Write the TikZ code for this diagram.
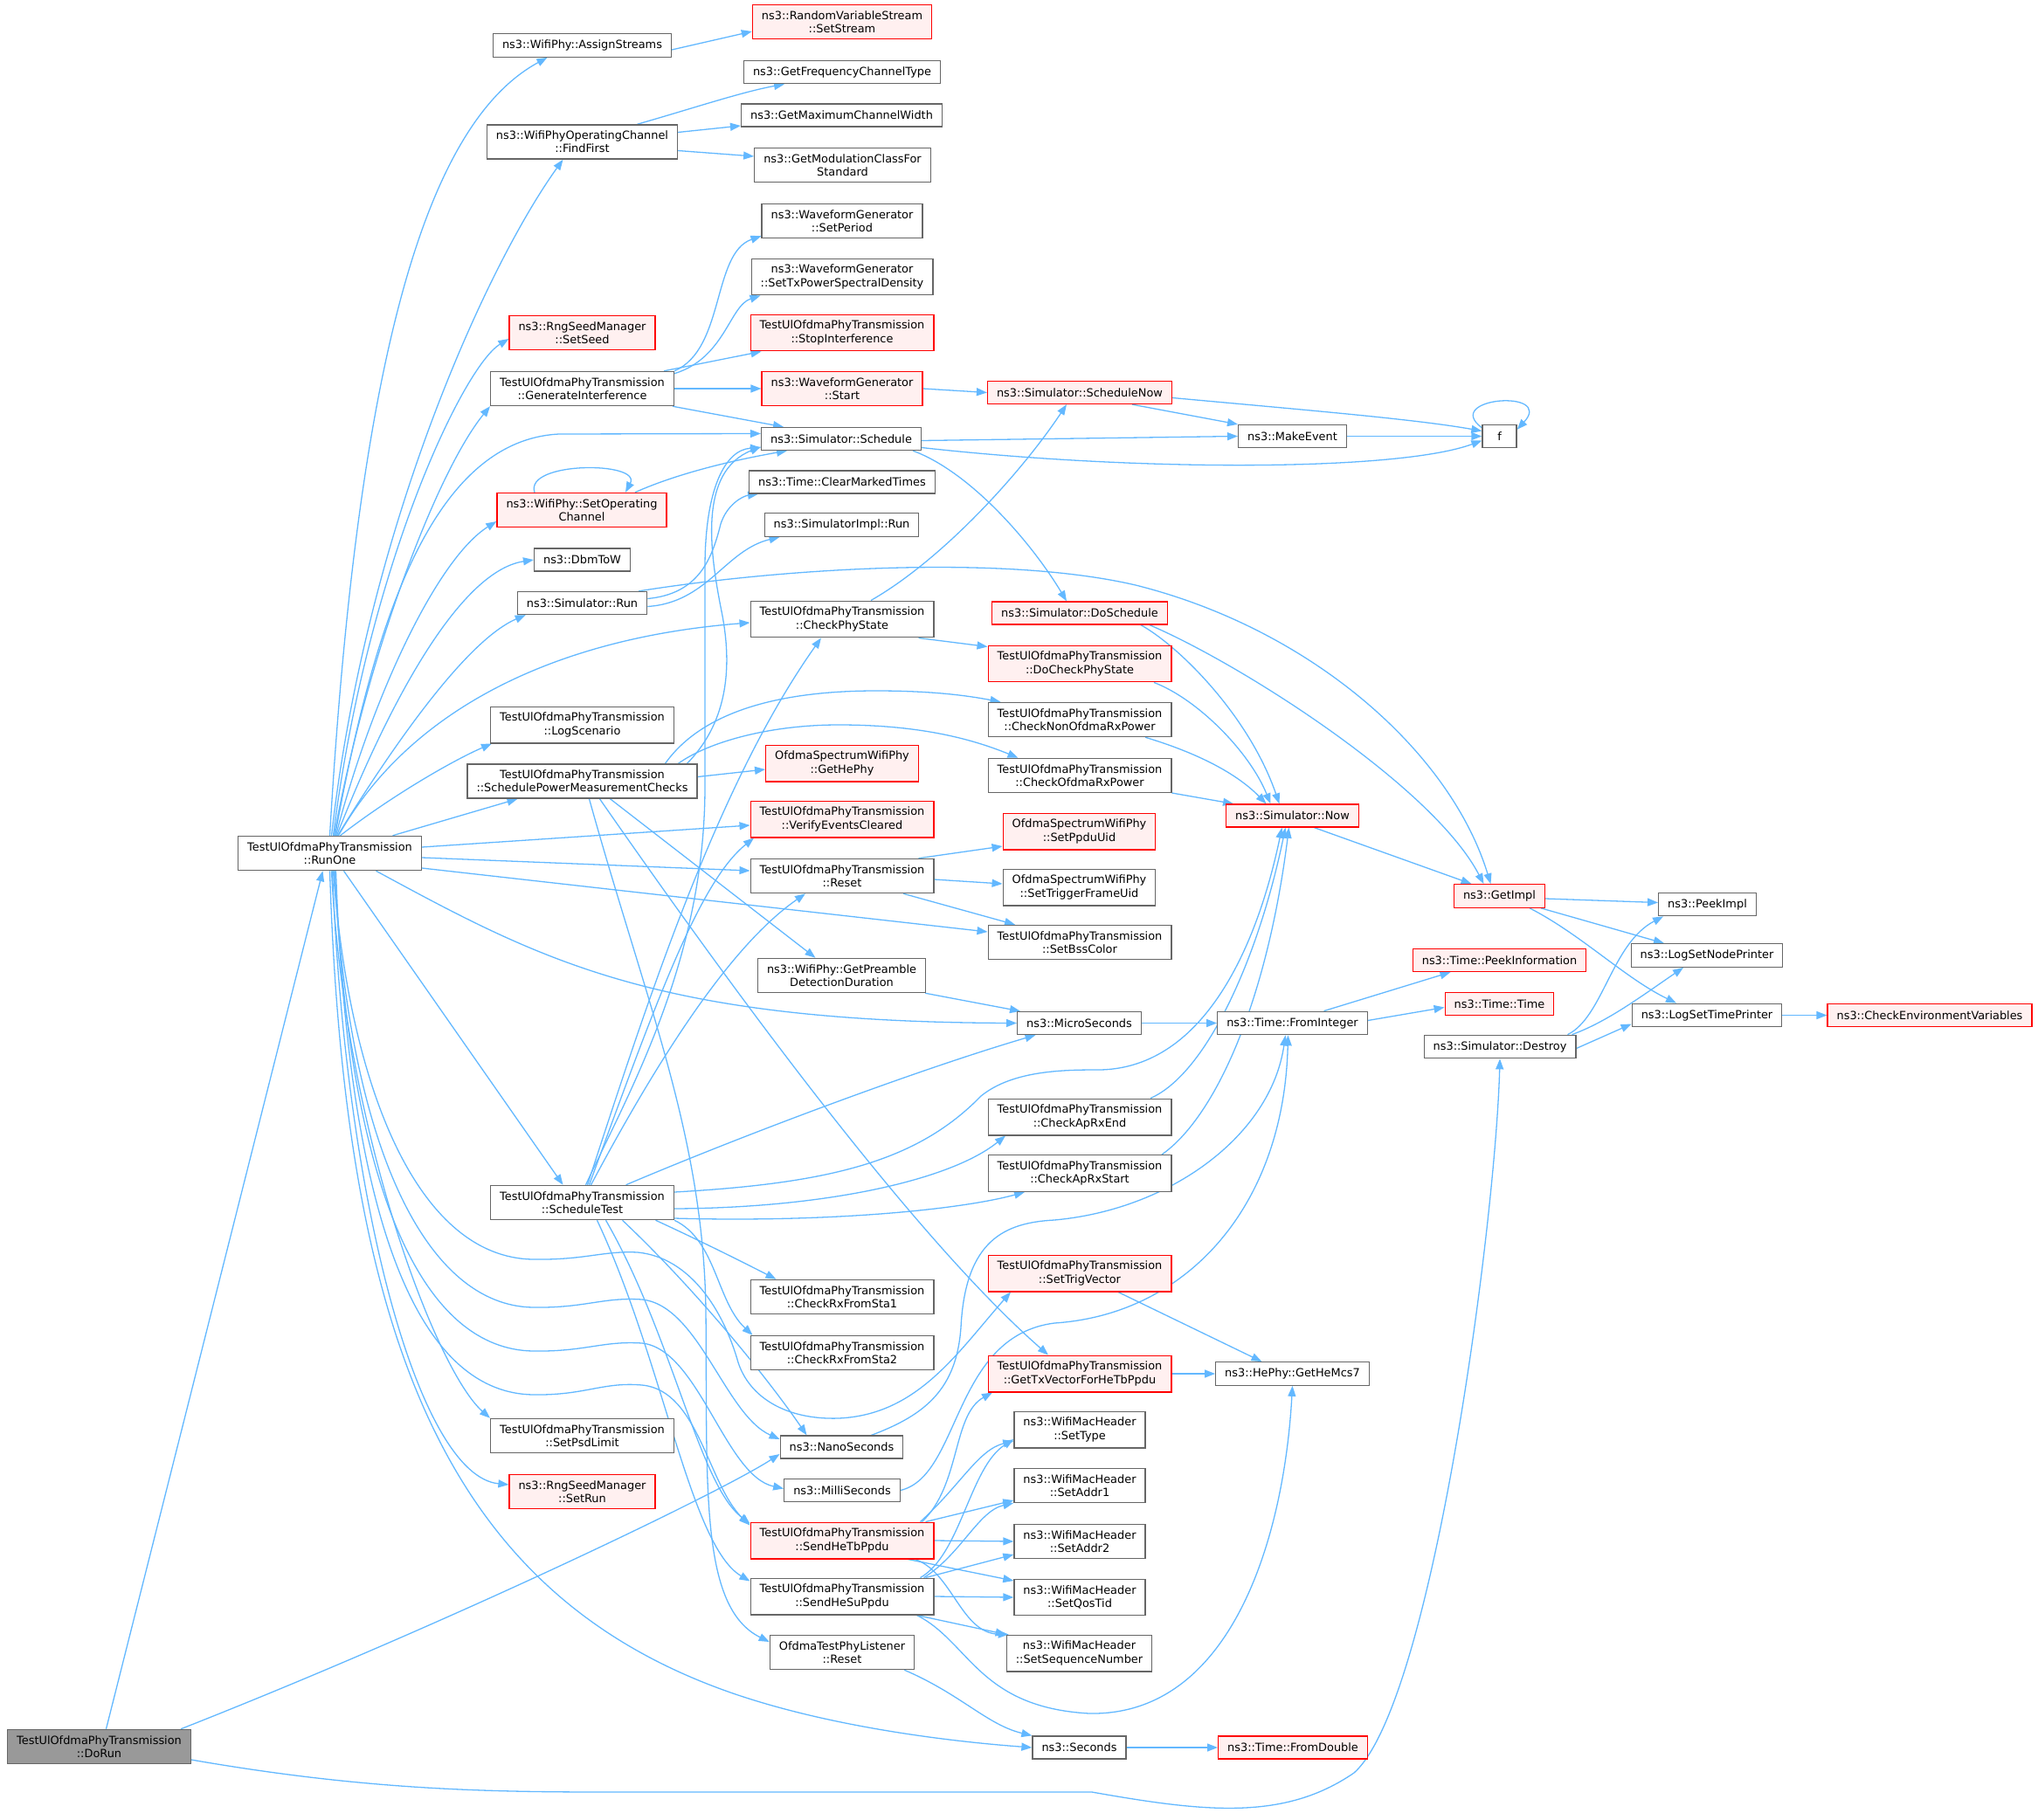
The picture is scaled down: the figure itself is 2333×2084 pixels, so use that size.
\documentclass[tikz,border=0pt]{standalone}
\usepackage{fontspec}
\setmainfont{DejaVu Sans}
\usetikzlibrary{arrows.meta}
\pgfdeclarelayer{background}
\pgfsetlayers{background,main}
\definecolor{edgeblue}{HTML}{63B8FF}
\definecolor{boxline}{HTML}{666666}
\definecolor{redfill}{HTML}{FFF0F0}
\definecolor{rootfill}{HTML}{999999}

\begin{document}
\begin{tikzpicture}[x=1pt, y=-1pt,
  fn/.style={draw=boxline, fill=white, line width=1.3pt, inner xsep=10.5pt, inner ysep=7pt,
    minimum height=26pt, align=center, font=\fontsize{12.9}{15.2}\selectfont},
  fnred/.style={fn, draw=red, fill=redfill},
  fnroot/.style={fn, fill=rootfill},
  call/.style={draw=edgeblue, line width=1.3pt, -{Triangle[length=12pt,width=9pt]}}]
\useasboundingbox (0,0) rectangle (2333,2084);
%
\node[fnroot] (doRun) at (113.5,2000) {TestUlOfdmaPhyTransmission\\::DoRun};
\node[fn] (runOne) at (377.5,977) {TestUlOfdmaPhyTransmission\\::RunOne};
%
\node[fn] (assignStreams) at (666.5,52) {ns3::WifiPhy::AssignStreams};
\node[fn] (findFirst) at (666.5,162.5) {ns3::WifiPhyOperatingChannel\\::FindFirst};
\node[fnred] (setSeed) at (666.5,381) {ns3::RngSeedManager\\::SetSeed};
\node[fn] (genInterf) at (666.5,445) {TestUlOfdmaPhyTransmission\\::GenerateInterference};
\node[fnred] (setOpChan) at (666,584) {ns3::WifiPhy::SetOperating\\Channel};
\node[fn] (dbmToW) at (666.5,641) {ns3::DbmToW};
\node[fn] (simRun) at (666.5,690.5) {ns3::Simulator::Run};
\node[fn] (logScenario) at (666.5,830) {TestUlOfdmaPhyTransmission\\::LogScenario};
\node[fn] (schedPower) at (666.5,894.5) {TestUlOfdmaPhyTransmission\\::SchedulePowerMeasurementChecks};
\node[fn] (scheduleTest) at (666.5,1377) {TestUlOfdmaPhyTransmission\\::ScheduleTest};
\node[fn] (setPsdLimit) at (666.5,1644) {TestUlOfdmaPhyTransmission\\::SetPsdLimit};
\node[fnred] (setRun) at (666.5,1708) {ns3::RngSeedManager\\::SetRun};
%
\node[fnred] (setStream) at (964,25) {ns3::RandomVariableStream\\::SetStream};
\node[fn] (getFreqType) at (964,82.5) {ns3::GetFrequencyChannelType};
\node[fn] (getMaxWidth) at (963.5,132) {ns3::GetMaximumChannelWidth};
\node[fn] (getModClass) at (964.5,189) {ns3::GetModulationClassFor\\Standard};
\node[fn] (setPeriod) at (964,253) {ns3::WaveformGenerator\\::SetPeriod};
\node[fn] (setTxPsd) at (964,317) {ns3::WaveformGenerator\\::SetTxPowerSpectralDensity};
\node[fnred] (stopInterf) at (964,381) {TestUlOfdmaPhyTransmission\\::StopInterference};
\node[fnred] (wgStart) at (964,445) {ns3::WaveformGenerator\\::Start};
\node[fn] (schedule) at (963,502.5) {ns3::Simulator::Schedule};
\node[fn] (clearMarked) at (964,552) {ns3::Time::ClearMarkedTimes};
\node[fn] (implRun) at (963.5,601) {ns3::SimulatorImpl::Run};
\node[fn] (checkPhyState) at (964,709) {TestUlOfdmaPhyTransmission\\::CheckPhyState};
\node[fnred] (getHePhy) at (964,874) {OfdmaSpectrumWifiPhy\\::GetHePhy};
\node[fnred] (verifyEvents) at (964,938) {TestUlOfdmaPhyTransmission\\::VerifyEventsCleared};
\node[fn] (reset) at (964,1003) {TestUlOfdmaPhyTransmission\\::Reset};
\node[fn] (preamble) at (963.5,1117) {ns3::WifiPhy::GetPreamble\\DetectionDuration};
\node[fn] (checkRx1) at (964,1485) {TestUlOfdmaPhyTransmission\\::CheckRxFromSta1};
\node[fn] (checkRx2) at (964,1549) {TestUlOfdmaPhyTransmission\\::CheckRxFromSta2};
\node[fn] (nanoSec) at (963.5,1657) {ns3::NanoSeconds};
\node[fn] (milliSec) at (964,1706.5) {ns3::MilliSeconds};
\node[fnred] (sendHeTb) at (964,1764) {TestUlOfdmaPhyTransmission\\::SendHeTbPpdu};
\node[fn] (sendHeSu) at (964,1828) {TestUlOfdmaPhyTransmission\\::SendHeSuPpdu};
\node[fn] (listenerReset) at (964,1892) {OfdmaTestPhyListener\\::Reset};
%
\node[fnred] (scheduleNow) at (1236,449.5) {ns3::Simulator::ScheduleNow};
\node[fnred] (doSchedule) at (1236,702) {ns3::Simulator::DoSchedule};
\node[fnred] (doCheckPhy) at (1236,760) {TestUlOfdmaPhyTransmission\\::DoCheckPhyState};
\node[fn] (checkNonOfdma) at (1236,824) {TestUlOfdmaPhyTransmission\\::CheckNonOfdmaRxPower};
\node[fn] (checkOfdma) at (1236,888) {TestUlOfdmaPhyTransmission\\::CheckOfdmaRxPower};
\node[fnred] (setPpduUid) at (1235.5,952) {OfdmaSpectrumWifiPhy\\::SetPpduUid};
\node[fn] (setTrigFrame) at (1235.5,1016) {OfdmaSpectrumWifiPhy\\::SetTriggerFrameUid};
\node[fn] (setBssColor) at (1236,1079) {TestUlOfdmaPhyTransmission\\::SetBssColor};
\node[fn] (microSec) at (1235.5,1171.5) {ns3::MicroSeconds};
\node[fn] (checkApRxEnd) at (1236,1279) {TestUlOfdmaPhyTransmission\\::CheckApRxEnd};
\node[fn] (checkApRxStart) at (1236,1343.5) {TestUlOfdmaPhyTransmission\\::CheckApRxStart};
\node[fnred] (setTrigVector) at (1236,1458) {TestUlOfdmaPhyTransmission\\::SetTrigVector};
\node[fnred] (getTxVector) at (1236,1573) {TestUlOfdmaPhyTransmission\\::GetTxVectorForHeTbPpdu};
\node[fn] (setType) at (1236,1637) {ns3::WifiMacHeader\\::SetType};
\node[fn] (setAddr1) at (1236,1701) {ns3::WifiMacHeader\\::SetAddr1};
\node[fn] (setAddr2) at (1236,1765) {ns3::WifiMacHeader\\::SetAddr2};
\node[fn] (setQosTid) at (1236,1829) {ns3::WifiMacHeader\\::SetQosTid};
\node[fn] (setSeqNum) at (1235.5,1893) {ns3::WifiMacHeader\\::SetSequenceNumber};
\node[fn] (seconds) at (1235.5,2001) {ns3::Seconds};
%
\node[fn] (makeEvent) at (1479.5,499.5) {ns3::MakeEvent};
\node[fnred] (simNow) at (1479.5,934) {ns3::Simulator::Now};
\node[fn] (fromInteger) at (1479.5,1171.5) {ns3::Time::FromInteger};
\node[fn] (getHeMcs7) at (1479.5,1573) {ns3::HePhy::GetHeMcs7};
\node[fnred] (fromDouble) at (1480,2001) {ns3::Time::FromDouble};
%
\node[fn, minimum width=39pt] (fNode) at (1716.5,499.5) {f};
\node[fnred] (getImpl) at (1716.5,1026) {ns3::GetImpl};
\node[fnred] (peekInfo) at (1716.5,1099.5) {ns3::Time::PeekInformation};
\node[fnred] (timeTime) at (1716.5,1149.5) {ns3::Time::Time};
\node[fn] (simDestroy) at (1717,1198.5) {ns3::Simulator::Destroy};
%
\node[fn] (peekImpl) at (1954.5,1035.5) {ns3::PeekImpl};
\node[fn] (logNodePrinter) at (1954,1094) {ns3::LogSetNodePrinter};
\node[fn] (logTimePrinter) at (1954,1162.5) {ns3::LogSetTimePrinter};
\node[fnred] (checkEnv) at (2209,1162.5) {ns3::CheckEnvironmentVariables};
%
\begin{pgfonlayer}{background}
% DoRun
\draw[call] ([xshift=8pt]doRun.north) -- ([xshift=-8pt]runOne.south);
\draw[call] ([xshift=-12pt]doRun.north east) .. controls (511,1860) and (823,1710) .. ([yshift=-8pt]nanoSec.west);
\draw[call] ([yshift=-15pt]doRun.east) .. controls (420,2050) and (560,2052) .. (700,2052) -- (1250,2052) .. controls (1380,2075) and (1470,2085) .. (1550,2030) .. controls (1640,1950) and (1712,1400) .. (simDestroy.south);
% RunOne, upwards
\draw[call] (runOne.north) .. controls (410,400) and (490,140) .. ([xshift=-40pt]assignStreams.south);
\draw[call] ([xshift=2pt]runOne.north) .. controls (420,600) and (560,300) .. ([xshift=-22pt]findFirst.south);
\draw[call] ([xshift=4pt]runOne.north) .. controls (420,650) and (530,420) .. ([yshift=-7pt]setSeed.west);
\draw[call] ([xshift=5pt]runOne.north) .. controls (420,750) and (500,540) .. (genInterf.south west);
\draw[call] ([xshift=6pt]runOne.north) .. controls (420,760) and (480,505) .. (640,497) -- ([yshift=6pt]schedule.west);
\draw[call] ([xshift=7pt]runOne.north) .. controls (425,800) and (500,640) .. ([yshift=-13pt]setOpChan.west);
\draw[call] ([xshift=8pt]runOne.north) .. controls (435,830) and (520,655) .. (dbmToW.west);
\draw[call] ([xshift=9pt]runOne.north) .. controls (440,870) and (530,735) .. ([xshift=10pt]simRun.south west);
\draw[call] ([xshift=10pt]runOne.north) .. controls (470,810) and (640,730) .. ([yshift=-4pt]checkPhyState.west);
\draw[call] ([xshift=12pt]runOne.north) .. controls (450,910) and (520,870) .. ([xshift=2pt]logScenario.south west);
\draw[call] ([xshift=72pt]runOne.north) -- ([xshift=-74pt]schedPower.south);
% RunOne, to the right
\draw[call] ([yshift=7pt]runOne.east) -- ([yshift=-7pt]verifyEvents.west);
\draw[call] ([yshift=-5pt]runOne.east) -- ([yshift=6pt]reset.west);
\draw[call] ([yshift=-17pt]runOne.east) -- ([yshift=12pt]setBssColor.west);
\draw[call] ([xshift=53pt]runOne.south) .. controls (620,1100) and (750,1170) .. (microSec.west);
\draw[call] ([xshift=16pt]runOne.south) -- ([xshift=-22pt]scheduleTest.north);
% RunOne, downwards
\draw[call] ([xshift=2pt]runOne.south) .. controls (395,1300) and (500,1570) .. (setPsdLimit.north west);
\draw[call] ([xshift=3pt]runOne.south) .. controls (395,1380) and (480,1690) .. ([yshift=8pt]setRun.west);
\draw[call] (runOne.south) .. controls (395,1550) and (520,1830) .. (842,1940) .. controls (960,1980) and (1100,1995) .. (seconds.west);
\draw[call] ([xshift=4pt]runOne.south) .. controls (400,1250) and (480,1440) .. (610,1442) .. controls (670,1443) and (690,1432) .. (730,1434) .. controls (790,1440) and (828,1500) .. (845,1560) .. controls (858,1600) and (900,1626) .. (960,1624) .. controls (1050,1620) and (1095,1550) .. ([xshift=-79pt]setTrigVector.south);
\draw[call] ([xshift=5pt]runOne.south) .. controls (400,1320) and (490,1495) .. (610,1497) .. controls (670,1498) and (690,1485) .. (735,1488) .. controls (800,1495) and (830,1620) .. ([yshift=9pt]nanoSec.west);
\draw[call] ([xshift=6pt]runOne.south) .. controls (400,1380) and (490,1545) .. (610,1547) .. controls (670,1548) and (690,1535) .. (735,1538) .. controls (800,1545) and (830,1690) .. ([yshift=2pt]milliSec.west);
\draw[call] ([xshift=7pt]runOne.south) .. controls (400,1430) and (490,1595) .. (610,1597) .. controls (670,1598) and (690,1582) .. (735,1586) .. controls (800,1592) and (810,1700) .. ([yshift=-4pt]sendHeTb.north west);
% SchedulePowerMeasurementChecks
\draw[call] ([xshift=120pt]schedPower.north) .. controls (830,830) and (840,770) .. (826,700) .. controls (812,630) and (800,540) .. ([yshift=-9pt]schedule.west);
\draw[call] ([xshift=95pt]schedPower.north) .. controls (800,820) and (880,791) .. (1003,791) .. controls (1070,791) and (1110,797) .. ([xshift=15pt]checkNonOfdma.north west);
\draw[call] ([xshift=110pt]schedPower.north) .. controls (810,850) and (880,830) .. (960,830) .. controls (1050,830) and (1110,845) .. ([xshift=35pt]checkOfdma.north west);
\draw[call] ([yshift=5pt]schedPower.east) -- ([yshift=-7pt]getHePhy.west);
\draw[call] ([xshift=32pt]schedPower.south) -- ([xshift=-30pt]preamble.north);
\draw[call] ([xshift=20pt]schedPower.south) .. controls (850,1150) and (1050,1420) .. ([xshift=-36pt]getTxVector.north);
\draw[call] ([xshift=8pt]schedPower.south) .. controls (740,1150) and (805,1300) .. (808,1500) .. controls (810,1700) and (800,1840) .. ([yshift=12pt]listenerReset.west);
% ScheduleTest
\draw[call] ([xshift=4pt]scheduleTest.north) .. controls (720,1250) and (807,1100) .. (807,900) -- (807,650) .. controls (807,560) and (830,515) .. ([yshift=-10pt]schedule.west);
\draw[call] ([xshift=6pt]scheduleTest.north) .. controls (740,1150) and (820,900) .. ([xshift=-24pt]checkPhyState.south);
\draw[call] ([xshift=8pt]scheduleTest.north) .. controls (750,1150) and (800,1010) .. ([xshift=-101pt]verifyEvents.south);
\draw[call] ([xshift=10pt]scheduleTest.north) .. controls (760,1200) and (840,1080) .. ([xshift=-42pt]reset.south);
\draw[call] ([xshift=50pt]scheduleTest.north) .. controls (850,1300) and (1050,1225) .. ([xshift=-50pt]microSec.south);
\draw[call] ([yshift=12pt]scheduleTest.east) .. controls (950,1355) and (1050,1330) .. (1123,1255) .. controls (1160,1225) and (1220,1225) .. (1260,1225) .. controls (1380,1222) and (1440,1080) .. ([xshift=-12pt]simNow.south);
\draw[call] ([yshift=-7pt]scheduleTest.east) .. controls (950,1383) and (1090,1350) .. ([xshift=-85pt]checkApRxEnd.south);
\draw[call] ([yshift=-18pt]scheduleTest.east) .. controls (950,1400) and (1100,1385) .. ([xshift=-63pt]checkApRxStart.south);
\draw[call] ([xshift=84pt]scheduleTest.south) .. controls (800,1420) and (850,1445) .. ([xshift=30pt]checkRx1.north west);
\draw[call] (scheduleTest.south east) .. controls (820,1420) and (820,1490) .. ([xshift=3pt]checkRx2.north west);
\draw[call] ([xshift=46pt]scheduleTest.south) .. controls (800,1480) and (880,1580) .. ([xshift=-40pt]nanoSec.north);
\draw[call] ([xshift=27pt]scheduleTest.south) .. controls (770,1530) and (800,1700) .. ([yshift=-2pt]sendHeTb.north west);
\draw[call] ([xshift=17pt]scheduleTest.south) .. controls (760,1560) and (790,1770) .. ([yshift=-4pt]sendHeSu.north west);
% second column
\draw[call] ([yshift=-5pt]assignStreams.east) -- ([yshift=-11pt]setStream.west);
\draw[call] ([xshift=63pt]findFirst.north) .. controls (790,125) and (850,105) .. ([xshift=-66pt]getFreqType.south);
\draw[call] ([yshift=11pt]findFirst.east) -- ([yshift=-12pt]getMaxWidth.west);
\draw[call] ([yshift=-10pt]findFirst.east) -- ([yshift=10pt]getModClass.west);
\draw[call] (genInterf.north east) .. controls (830,400) and (815,290) .. ([yshift=3pt]setPeriod.south west);
\draw[call] ([yshift=-3pt]genInterf.north east) .. controls (830,410) and (835,350) .. ([xshift=11pt]setTxPsd.south west);
\draw[call] ([xshift=-12pt]genInterf.north east) -- ([xshift=13pt]stopInterf.south west);
\draw[call] (genInterf.east) -- (wgStart.west);
\draw[call] ([xshift=-2pt]genInterf.south east) -- ([xshift=-66pt]schedule.north);
\draw[call] ([xshift=-54pt]setOpChan.north) .. controls (600,528) and (735,528) .. ([xshift=50pt]setOpChan.north);
\draw[call] ([xshift=61pt]setOpChan.north) .. controls (780,540) and (850,525) .. ([xshift=-62pt]schedule.south);
\draw[call] ([yshift=5pt]simRun.east) .. controls (800,680) and (815,640) .. (825,600) .. controls (832,578) and (850,568) .. ([xshift=11pt]clearMarked.south west);
\draw[call] ([yshift=-4pt]simRun.east) .. controls (810,690) and (830,630) .. ([xshift=18pt]implRun.south west);
\draw[call] ([xshift=-10pt]simRun.north east) .. controls (900,650) and (1150,635) .. (1300,670) .. controls (1500,720) and (1660,860) .. ([xshift=-10pt]getImpl.north);
\draw[call] ([xshift=-18pt]reset.north east) -- ([yshift=-17pt]setPpduUid.west);
\draw[call] ([yshift=-4pt]reset.east) -- ([yshift=4pt]setTrigFrame.west);
\draw[call] ([xshift=70pt]reset.south) -- ([xshift=-74pt]setBssColor.north);
\draw[call] ([xshift=-1pt]preamble.south east) -- ([xshift=4pt]microSec.north west);
\draw[call] ([xshift=33pt]checkPhyState.north) .. controls (1080,640) and (1170,540) .. ([xshift=-15pt]scheduleNow.south);
\draw[call] ([xshift=-18pt]checkPhyState.south east) -- ([yshift=-2pt]doCheckPhy.north west);
\draw[call] ([xshift=-37pt]nanoSec.north east) .. controls (1060,1620) and (1095,1590) .. (1100,1520) .. controls (1105,1420) and (1150,1400) .. (1207,1397) .. controls (1340,1385) and (1455,1300) .. ([xshift=-8pt]fromInteger.south);
\draw[call] (milliSec.east) .. controls (1100,1690) and (1090,1530) .. (1207,1515) .. controls (1360,1505) and (1470,1380) .. ([xshift=-5pt]fromInteger.south);
\draw[call] ([xshift=-12pt]listenerReset.south east) .. controls (1100,1940) and (1130,1975) .. (seconds.north west);
% sending
\draw[call] ([xshift=-14pt]sendHeTb.north east) .. controls (1100,1700) and (1090,1620) .. ([xshift=-100pt]getTxVector.south);
\draw[call] ([xshift=-16pt]sendHeTb.north east) .. controls (1100,1700) and (1120,1660) .. ([yshift=-13pt]setType.west);
\draw[call] ([xshift=-10pt]sendHeTb.north east) -- ([yshift=-17pt]setAddr1.west);
\draw[call] (sendHeTb.east) -- (setAddr2.west);
\draw[call] ([xshift=-30pt]sendHeTb.south east) -- ([yshift=19pt]setQosTid.west);
\draw[call] ([xshift=-22pt]sendHeTb.south east) .. controls (1090,1800) and (1100,1870) .. ([xshift=3pt]setSeqNum.north west);
\draw[call] ([xshift=-16pt]sendHeSu.north east) .. controls (1100,1780) and (1110,1680) .. ([yshift=-11pt]setType.west);
\draw[call] ([xshift=-12pt]sendHeSu.north east) .. controls (1100,1780) and (1120,1730) .. ([yshift=-20pt]setAddr1.west);
\draw[call] ([xshift=-10pt]sendHeSu.north east) -- ([yshift=-15pt]setAddr2.west);
\draw[call] (sendHeSu.east) -- (setQosTid.west);
\draw[call] ([xshift=-20pt]sendHeSu.south east) -- (setSeqNum.north west);
\draw[call] ([xshift=-20pt]sendHeSu.south east) .. controls (1110,1880) and (1120,1955) .. (1247,1962) .. controls (1410,1965) and (1470,1760) .. (getHeMcs7.south);
% third column
\draw[call] (wgStart.east) -- (scheduleNow.west);
\draw[call] ([xshift=60pt]scheduleNow.south) -- (makeEvent.north west);
\draw[call] ([yshift=-6pt]scheduleNow.east) .. controls (1500,470) and (1620,480) .. ([yshift=6pt]fNode.west);
\draw[call] ([yshift=-2pt]schedule.east) -- (makeEvent.west);
\draw[call] ([yshift=-10pt]schedule.east) .. controls (1300,540) and (1600,540) .. ([yshift=-5pt]fNode.west);
\draw[call] ([xshift=-10pt]schedule.south east) .. controls (1110,540) and (1180,620) .. ([xshift=-15pt]doSchedule.north);
\draw[call] ([xshift=70pt]doSchedule.south) .. controls (1350,740) and (1430,820) .. ([xshift=-15pt]simNow.north);
\draw[call] ([xshift=80pt]doSchedule.south) .. controls (1420,760) and (1640,900) .. ([xshift=-18pt]getImpl.north);
\draw[call] ([xshift=85pt]doCheckPhy.south) .. controls (1370,800) and (1430,860) .. ([xshift=-25pt]simNow.north);
\draw[call] ([xshift=75pt]checkNonOfdma.south) .. controls (1380,865) and (1420,890) .. ([xshift=-30pt]simNow.north);
\draw[call] ([yshift=-20pt]checkOfdma.east) -- ([xshift=9pt]simNow.north west);
\draw[call] ([xshift=81pt]checkApRxEnd.north) .. controls (1380,1230) and (1440,1100) .. ([xshift=-8pt]simNow.south);
\draw[call] ([xshift=94pt]checkApRxStart.north) .. controls (1390,1280) and (1450,1150) .. ([xshift=-4pt]simNow.south);
\draw[call] (microSec.east) -- (fromInteger.west);
\draw[call] ([xshift=44pt]setTrigVector.south) -- ([xshift=-35pt]getHeMcs7.north);
\draw[call] (getTxVector.east) -- (getHeMcs7.west);
\draw[call] (seconds.east) -- (fromDouble.west);
% fourth column and beyond
\draw[call] (makeEvent.east) -- (fNode.west);
\draw[call] ([yshift=-4pt]fNode.north west) .. controls (1650,455) and (1780,445) .. ([yshift=-6pt]fNode.north east);
\draw[call] ([xshift=25pt]simNow.south) -- ([xshift=-32pt]getImpl.north);
\draw[call] ([xshift=36pt]fromInteger.north) -- ([xshift=-56pt]peekInfo.south);
\draw[call] ([yshift=3pt]fromInteger.east) -- ([yshift=-4pt]timeTime.west);
\draw[call] ([yshift=-3pt]getImpl.east) -- ([yshift=2pt]peekImpl.west);
\draw[call] ([xshift=-5pt]getImpl.south east) -- ([xshift=-49pt]logNodePrinter.north);
\draw[call] ([xshift=-18pt]getImpl.south east) .. controls (1810,1070) and (1860,1120) .. ([xshift=-35pt]logTimePrinter.north);
\draw[call] ([xshift=-10pt]simDestroy.north east) .. controls (1835,1165) and (1845,1080) .. ([xshift=6pt]peekImpl.south west);
\draw[call] ([xshift=-5pt]simDestroy.north east) .. controls (1840,1170) and (1880,1140) .. ([xshift=-27pt]logNodePrinter.south);
\draw[call] ([yshift=-2pt]simDestroy.east) -- ([yshift=-10pt]logTimePrinter.west);
\draw[call] (logTimePrinter.east) -- (checkEnv.west);
\end{pgfonlayer}
\end{tikzpicture}
\end{document}
